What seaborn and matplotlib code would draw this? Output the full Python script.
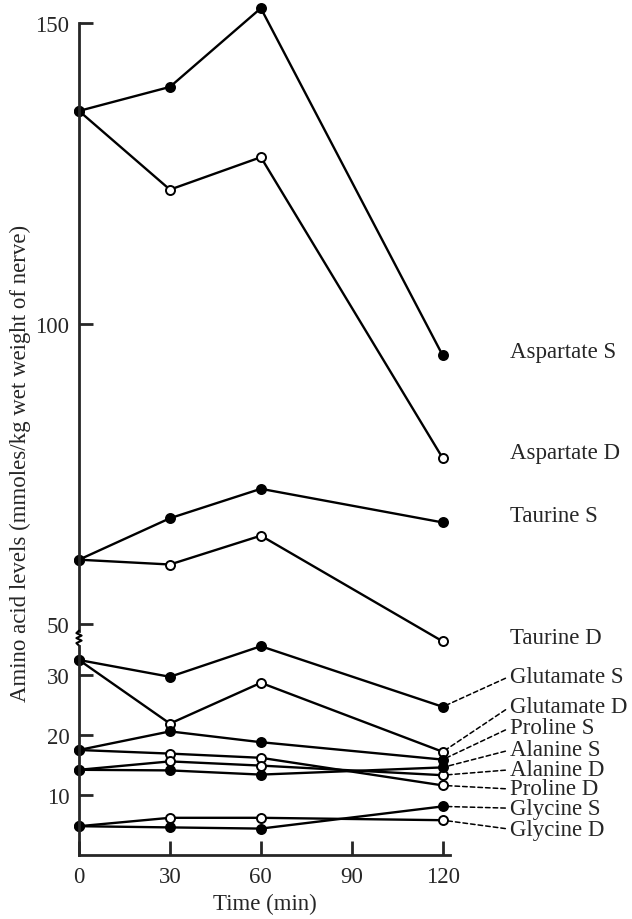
import matplotlib
matplotlib.use("Agg")
import matplotlib.pyplot as plt
import seaborn as sns
import numpy as np

sns.set_style("ticks")
plt.rcParams['font.family'] = ['Liberation Serif', 'DejaVu Serif']

times = [0, 30, 60, 120]

# upper panel series (high values)
aspartate_s = [135.4, 139.4, 152.5, 94.7]
aspartate_d = [135.4, 122.3, 127.7, 77.6]
taurine_s = [60.7, 67.6, 72.5, 66.9]
taurine_d = [60.7, 59.9, 64.7, 47.1]

# lower panel series (low values)
glutamate_s = [32.5, 29.7, 34.8, 24.7]
glutamate_d = [32.5, 21.9, 28.7, 17.2]
proline_s = [17.5, 20.6, 18.8, 15.9]
proline_d = [17.5, 16.9, 16.2, 11.6]
alanine_s = [14.2, 14.1, 13.4, 14.6]
alanine_d = [14.2, 15.6, 14.9, 13.3]
glycine_s = [4.8, 4.6, 4.4, 8.1]
glycine_d = [4.8, 6.2, 6.2, 5.8]

upper_series = [
    ("Aspartate S", aspartate_s, True),
    ("Aspartate D", aspartate_d, False),
    ("Taurine S", taurine_s, True),
    ("Taurine D", taurine_d, False),
]
lower_series = [
    ("Glutamate S", glutamate_s, True),
    ("Glutamate D", glutamate_d, False),
    ("Proline S", proline_s, True),
    ("Proline D", proline_d, False),
    ("Alanine S", alanine_s, True),
    ("Alanine D", alanine_d, False),
    ("Glycine S", glycine_s, True),
    ("Glycine D", glycine_d, False),
]

# label positions (text placement)
upper_label_y = {"Aspartate S": 95.3, "Aspartate D": 78.5, "Taurine S": 68.0, "Taurine D": 47.7}
lower_label_y = {"Glutamate S": 29.8, "Glutamate D": 24.7, "Proline S": 21.2, "Alanine S": 17.5,
                 "Alanine D": 14.2, "Proline D": 11.0, "Glycine S": 7.8, "Glycine D": 4.3}

W, H = 632, 920
fig = plt.figure(figsize=(W / 100, H / 100), dpi=100)

x0, x1 = 79, 450
xmax = (x1 - x0) / 3.031

ax_u = fig.add_axes([x0 / W, (H - 660) / H, (x1 - x0) / W, (660 - 5) / H])
ax_l = fig.add_axes([x0 / W, (H - 856) / H, (x1 - x0) / W, (856 - 640) / H])

FS = 16.5
lw = 1.7

for ax in (ax_u, ax_l):
    ax.patch.set_alpha(0)
    ax.set_xlim(0, xmax)
    for s in ("top", "right"):
        ax.spines[s].set_visible(False)
    ax.spines["left"].set_linewidth(2)
    ax.spines["bottom"].set_linewidth(2)

def draw(ax, series):
    # open-circle series first so the filled markers sit on top where they coincide
    ordered = [s for s in series if not s[2]] + [s for s in series if s[2]]
    for name, vals, filled in ordered:
        sns.lineplot(x=times, y=vals, ax=ax, color="black", linewidth=lw,
                     marker="o", markersize=6.5,
                     markerfacecolor="black" if filled else "white",
                     markeredgecolor="black", markeredgewidth=1.4,
                     clip_on=False, legend=False)

draw(ax_u, upper_series)
draw(ax_l, lower_series)

# upper axis
ax_u.set_ylim(44.17, 153.2)
ax_u.spines["bottom"].set_visible(False)
ax_u.spines["left"].set_bounds(48.83, 150)
ax_u.set_yticks([50, 100, 150])
ax_u.set_xticks([])
ax_u.tick_params(axis="y", direction="in", length=10, width=2, pad=7, labelsize=FS)
ax_u.set_ylabel("")
ax_u.set_xlabel("")

# lower axis
ax_l.set_ylim(0, 36.0)
ax_l.spines["left"].set_bounds(0, 34.9)
ax_l.set_yticks([10, 20, 30])
ax_l.set_xticks([0, 30, 60, 90, 120])
ax_l.tick_params(axis="y", direction="in", length=10, width=2, pad=7, labelsize=FS)
ax_l.tick_params(axis="x", direction="in", length=10, width=2, pad=8, labelsize=FS)
ax_l.set_ylabel("")
ax_l.set_xlabel("Time (min)", fontsize=FS, labelpad=4)

# break marker on the y axis
zz_y = np.linspace(34.9, 37.4, 7)
zz_x = np.array([0, -0.007, 0.007, -0.007, 0.007, -0.007, 0])
ax_l.plot(zz_x, zz_y, color="black", lw=1.5, transform=ax_l.get_yaxis_transform(), clip_on=False)

text_x = 142.2
for name, vals, filled in upper_series:
    ax_u.text(text_x, upper_label_y[name], name, fontsize=FS, ha="left", va="center")

for name, vals, filled in lower_series:
    ax_l.annotate(name, xy=(120, vals[-1]), xytext=(text_x, lower_label_y[name]),
                  textcoords="data", fontsize=FS, ha="left", va="center",
                  annotation_clip=False,
                  arrowprops=dict(arrowstyle="-", linestyle=(0, (3, 2)), lw=1.1,
                                  color="black", relpos=(0, 0.5), shrinkA=1, shrinkB=4))

fig.text(20 / W, 1 - 463 / H, "Amino acid levels (mmoles/kg wet weight of nerve)",
         rotation=90, ha="center", va="center", fontsize=FS)

fig.savefig("out.png", dpi=100)
